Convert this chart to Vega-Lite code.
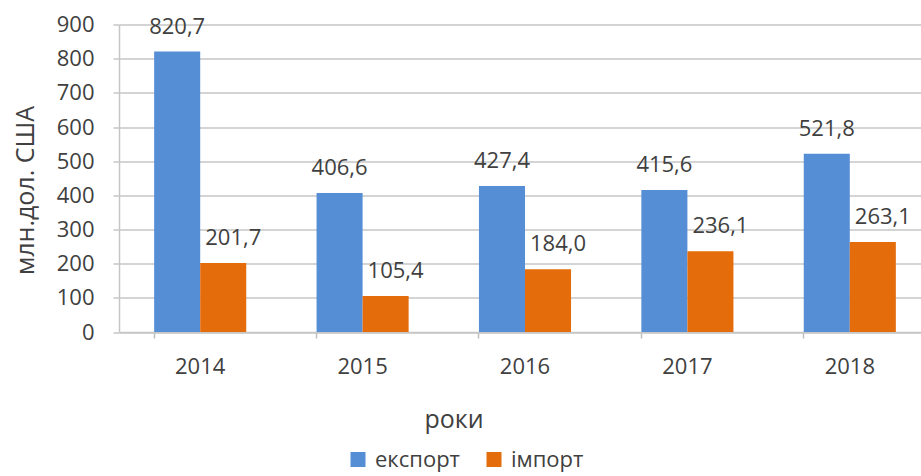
{
  "$schema": "https://vega.github.io/schema/vega-lite/v6.json",
  "width": 802,
  "height": 307.5,
  "autosize": {"type": "none"},
  "padding": {"left": 119, "top": 24.5, "right": 0, "bottom": 144},
  "background": "white",
  "config": {
    "view": {"stroke": null},
    "font": "Open Sans",
    "locale": {"number": {"decimal": ",", "thousands": " ", "grouping": [3], "currency": ["", ""]}},
    "axis": {"labelColor": "#404040", "titleColor": "#404040", "labelFont": "Open Sans", "titleFont": "Open Sans", "titleFontWeight": "normal"},
    "legend": {"labelColor": "#404040", "labelFont": "Open Sans"}
  },
  "data": {
    "values": [
      {"year": "2014", "series": "експорт", "value": 820.7},
      {"year": "2014", "series": "імпорт", "value": 201.7},
      {"year": "2015", "series": "експорт", "value": 406.6},
      {"year": "2015", "series": "імпорт", "value": 105.4},
      {"year": "2016", "series": "експорт", "value": 427.4},
      {"year": "2016", "series": "імпорт", "value": 184.0},
      {"year": "2017", "series": "експорт", "value": 415.6},
      {"year": "2017", "series": "імпорт", "value": 236.1},
      {"year": "2018", "series": "експорт", "value": 521.8},
      {"year": "2018", "series": "імпорт", "value": 263.1}
    ]
  },
  "encoding": {
    "x": {
      "field": "year", "type": "nominal",
      "scale": {"type": "band", "paddingInner": 0.433, "paddingOuter": 0.2165, "range": [0, 812]},
      "axis": {
        "title": "роки", "titleFontSize": 25, "titleX": 334.5, "titleY": 95, "titleAlign": "center", "titleBaseline": "alphabetic",
        "labelAngle": 0, "labelFontSize": 22, "labelPadding": 18,
        "bandPosition": 0, "ticks": true, "tickSize": 6, "tickColor": "#BFBFBF", "tickWidth": 1.5,
        "domain": true, "domainColor": "#C6C6C6", "domainWidth": 1.5, "grid": false
      }
    },
    "xOffset": {"field": "series", "type": "nominal", "sort": ["експорт", "імпорт"], "scale": {"paddingInner": 0, "paddingOuter": 0}},
    "y": {
      "field": "value", "type": "quantitative",
      "scale": {"domain": [0, 900], "nice": false},
      "axis": {
        "title": "млн.дол. США", "titleFontSize": 25, "titleX": -86, "titleY": 165.5, "titleAngle": -90, "titleAlign": "center", "titleBaseline": "alphabetic",
        "values": [0, 100, 200, 300, 400, 500, 600, 700, 800, 900],
        "labelFontSize": 22, "labelPadding": 19,
        "ticks": true, "tickSize": 6, "tickColor": "#C6C6C6", "tickWidth": 1.5,
        "domain": true, "domainColor": "#C6C6C6", "domainWidth": 1.5,
        "grid": true, "gridColor": "#C6C6C6", "gridWidth": 1.5
      }
    }
  },
  "layer": [
    {
      "mark": {"type": "bar"},
      "encoding": {
        "color": {
          "field": "series", "type": "nominal",
          "scale": {"domain": ["експорт", "імпорт"], "range": ["#558ED5", "#E46C0A"]},
          "legend": {
            "title": null, "orient": "none", "direction": "horizontal",
            "legendX": 228, "legendY": 424,
            "symbolType": "square", "symbolSize": 225, "symbolStrokeWidth": 0,
            "labelFontSize": 22, "labelOffset": 6, "columnPadding": 23, "padding": 0
          }
        }
      }
    },
    {
      "transform": [{"filter": "datum.series === 'експорт'"}],
      "mark": {"type": "text", "baseline": "alphabetic", "dy": -18, "fontSize": 22, "color": "#404040"},
      "encoding": {"text": {"field": "value", "type": "quantitative", "format": ".1f"}}
    },
    {
      "transform": [{"filter": "datum.series === 'імпорт'"}],
      "mark": {"type": "text", "baseline": "alphabetic", "dy": -18, "dx": 10, "fontSize": 22, "color": "#404040"},
      "encoding": {"text": {"field": "value", "type": "quantitative", "format": ".1f"}}
    }
  ]
}
